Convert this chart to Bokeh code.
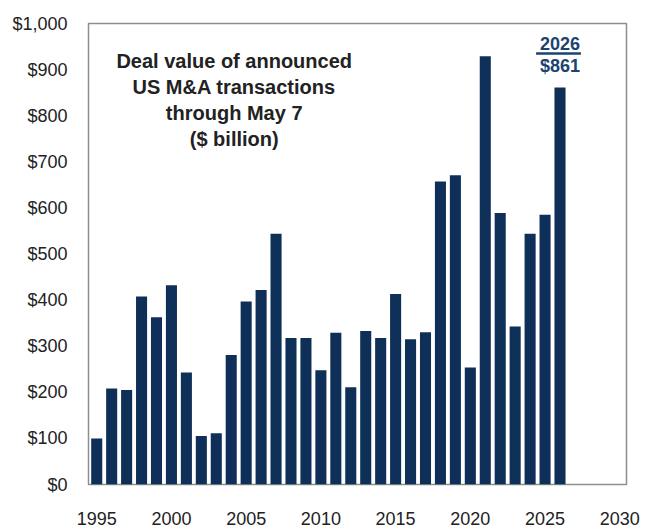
from bokeh.plotting import figure
from bokeh.models import ColumnDataSource, Range1d, FixedTicker, NumeralTickFormatter, Label
from bokeh.embed import file_html
from bokeh.resources import INLINE
from bokeh.core.properties import value

years = list(range(1995, 2027))
deal_values = [100, 208, 205, 408, 363, 432, 243, 105, 111, 281, 397, 422, 544, 318, 318, 248,
               329, 211, 333, 318, 413, 315, 330, 657, 671, 254, 929, 589, 343, 544, 585, 861]
x_ticks = [1995, 2000, 2005, 2010, 2015, 2020, 2025, 2030]
y_ticks = list(range(0, 1001, 100))
title_lines = "Deal value of announced\nUS M&A transactions\nthrough May 7\n($ billion)"
highlight_year = years[-1]
highlight_value = deal_values[-1]

BAR = "#0E3058"
FONT = "Liberation Sans"

src = ColumnDataSource(dict(x=years, top=deal_values))

p = figure(width=652, height=527, output_backend="svg", toolbar_location=None,
           x_range=Range1d(1994.45, 2030.45), y_range=Range1d(0, 1000),
           min_border_left=88, min_border_right=26, min_border_top=23, min_border_bottom=39)

p.vbar(x="x", top="top", bottom=0, width=0.74, source=src, color=BAR, line_color=None)

p.xgrid.visible = False
p.ygrid.visible = False
p.outline_line_color = "#8E8E8E"
p.outline_line_width = 1.5
p.background_fill_color = "white"
p.border_fill_color = "white"

p.xaxis.ticker = FixedTicker(ticks=x_ticks)
p.yaxis.ticker = FixedTicker(ticks=y_ticks)
p.yaxis.formatter = NumeralTickFormatter(format="$0,0")
for ax in (p.xaxis[0], p.yaxis[0]):
    ax.axis_line_color = None
    ax.major_tick_line_color = None
    ax.minor_tick_line_color = None
    ax.major_label_text_font = FONT
    ax.major_label_text_font_size = "18px"
    ax.major_label_text_color = "#222222"
p.yaxis.major_label_standoff = 15
p.xaxis.major_label_standoff = 21

title = Label(x=2004.2, y=942, text=title_lines, text_align="center", text_baseline="top",
              text_font=FONT, text_font_style="bold", text_font_size="20px",
              text_color="#222222", text_line_height=1.18)
p.add_layout(title)

p.text(x=[highlight_year], y=[957], text=[str(highlight_year)], text_align="center",
       text_baseline="middle", text_font=value(FONT), text_font_style="bold",
       text_font_size="18px", text_color="#1B4370")
p.segment(x0=[highlight_year - 1.6], x1=[highlight_year + 1.4], y0=[935], y1=[935],
          line_color="#1B4370", line_width=2.5)
p.text(x=[highlight_year], y=[907], text=["$%d" % highlight_value], text_align="center",
       text_baseline="middle", text_font=value(FONT), text_font_style="bold",
       text_font_size="18px", text_color="#1B4370")

open("out.html", "w").write(file_html(p, INLINE))
